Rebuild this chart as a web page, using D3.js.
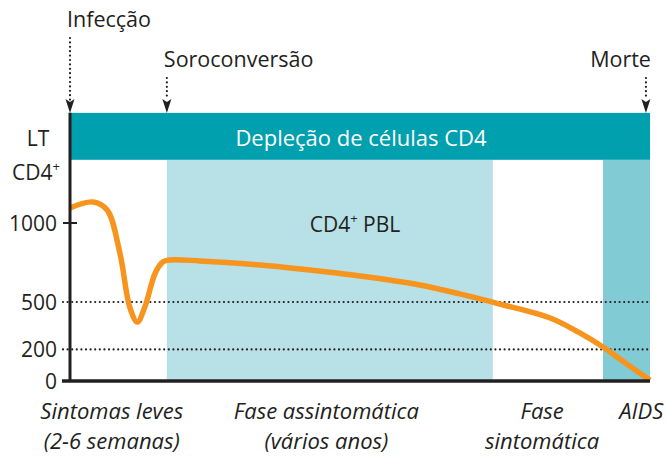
<!DOCTYPE html>
<html>
<head>
<meta charset="utf-8">
<script src="https://cdn.jsdelivr.net/npm/d3@7"></script>
<style>
  body { margin: 0; background: #fff; }
  text { font-family: "Open Sans", "Noto Sans", sans-serif; fill: #231f20; }
</style>
</head>
<body>
<div id="chart"></div>
<script>
let width = 668, height = 459;

// curve of CD4 cells over time (t = 0..100 arbitrary time, value = cells/uL)
let timePts  = [0, 4, 6.4, 8.6, 10.3, 11.6, 12.9, 14.7, 16, 17.2, 22.4, 32.8, 39.7, 50, 60.3, 67.2, 74.1, 82.8, 87.9, 91.9, 94.8, 100];
let cd4Vals  = [1095, 1133, 1082, 810, 468, 373, 468, 684, 753, 766, 760, 734, 709, 665, 608, 551, 487, 399, 304, 215, 139, 5];

let yTicks = [0, 200, 500, 1000];
let refLines = [500, 200];

// phases (shaded areas)
let shadeStart = [16.7, 91.9];
let shadeEnd   = [72.9, 100];
let shadeColor = ["#b7e0e7", "#80cbd4"];

// events on top
let eventNames = ["Infecção", "Soroconversão", "Morte"];
let eventTime  = [0, 16.7, 99.3];
let eventLevel = [0, 1, 1];

// phase labels at the bottom
let phaseLine1 = ["Sintomas leves", "Fase assintomática", "Fase", "AIDS"];
let phaseLine2 = ["(2-6 semanas)", "(vários anos)", "sintomática", ""];
let phaseX     = [7.2, 44.2, 81.4, 98.5];

let svg = d3.select("#chart").append("svg")
    .attr("width", width)
    .attr("height", height);

let x = d3.scaleLinear().domain([0, 100]).range([70, 650]);
let y = d3.scaleLinear().domain([0, 1000]).range([381, 223]);

// shaded phase boxes
svg.selectAll("rect.shade")
    .data(shadeStart)
    .enter()
    .append("rect")
    .attr("class", "shade")
    .attr("x", (d, i) => x(d))
    .attr("width", (d, i) => x(shadeEnd[i]) - x(d))
    .attr("y", y(1400))
    .attr("height", y(0) - y(1400))
    .style("fill", (d, i) => shadeColor[i]);

// depletion banner
svg.append("rect")
    .attr("x", x(0))
    .attr("width", x(100) - x(0))
    .attr("y", y(1697))
    .attr("height", y(1400) - y(1697))
    .style("fill", "#00a0af");

svg.append("text")
    .attr("x", 361)
    .attr("y", 146)
    .attr("text-anchor", "middle")
    .style("font-size", "22px")
    .style("fill", "#fff")
    .text("Depleção de células CD4");

// CD4+ PBL label
let pbl = svg.append("text")
    .attr("x", 355)
    .attr("y", 232)
    .attr("text-anchor", "middle")
    .style("font-size", "21px");
pbl.append("tspan").text("CD4");
pbl.append("tspan").attr("dy", -9).style("font-size", "13px").text("+");
pbl.append("tspan").attr("dy", 9).text(" PBL");

// dotted reference lines
svg.selectAll("line.ref")
    .data(refLines)
    .enter()
    .append("line")
    .attr("class", "ref")
    .attr("x1", 63)
    .attr("x2", x(100))
    .attr("y1", d => y(d))
    .attr("y2", d => y(d))
    .style("stroke", "#231f20")
    .style("stroke-width", 2.2)
    .style("stroke-linecap", "round")
    .style("stroke-dasharray", "0,4.6");

// the curve
let line = d3.line()
    .x((d, i) => x(timePts[i]))
    .y(d => y(d))
    .curve(d3.curveCatmullRom.alpha(0.5));

svg.append("path")
    .datum(cd4Vals)
    .attr("d", line)
    .style("fill", "none")
    .style("stroke", "#f7941d")
    .style("stroke-width", 5.5)
    .style("stroke-linecap", "butt");

// axes
svg.append("line")
    .attr("x1", x(0)).attr("x2", x(0))
    .attr("y1", y(1697)).attr("y2", y(0))
    .style("stroke", "#231f20").style("stroke-width", 3);
svg.append("line")
    .attr("x1", 62).attr("x2", x(100))
    .attr("y1", y(0)).attr("y2", y(0))
    .style("stroke", "#231f20").style("stroke-width", 3.5);
svg.append("line")
    .attr("x1", 63).attr("x2", 77)
    .attr("y1", y(1000)).attr("y2", y(1000))
    .style("stroke", "#231f20").style("stroke-width", 2);

svg.selectAll("text.tick")
    .data(yTicks)
    .enter()
    .append("text")
    .attr("class", "tick")
    .attr("x", 57)
    .attr("y", d => y(d) + 8)
    .attr("text-anchor", "end")
    .style("font-size", "21px")
    .text(d => d);

// y label
svg.append("text")
    .attr("x", 38).attr("y", 146)
    .attr("text-anchor", "middle")
    .style("font-size", "21px")
    .text("LT");
let cd = svg.append("text")
    .attr("x", 12).attr("y", 180)
    .style("font-size", "21px");
cd.append("tspan").text("CD4");
cd.append("tspan").attr("dy", -9).style("font-size", "13px").text("+");

// events with dotted arrows
eventNames.forEach(function(name, i) {
    let ex = x(eventTime[i]);
    let topY = eventLevel[i] === 0 ? 38 : 78;
    let anchor = i === 2 ? "end" : "start";
    svg.append("text")
        .attr("x", i === 2 ? ex + 5 : ex - 3)
        .attr("y", eventLevel[i] === 0 ? 27 : 67)
        .attr("text-anchor", anchor)
        .style("font-size", "21.5px")
        .text(name);
    svg.append("line")
        .attr("x1", ex).attr("x2", ex)
        .attr("y1", topY).attr("y2", 100)
        .style("stroke", "#231f20")
        .style("stroke-width", 2.2)
        .style("stroke-linecap", "round")
        .style("stroke-dasharray", "0,4.4");
    svg.append("path")
        .attr("d", "M" + (ex - 4.5) + ",99 L" + ex + ",102 L" + (ex + 4.5) + ",99 L" + ex + ",113 Z")
        .style("fill", "#231f20");
});

// phase labels
phaseLine1.forEach(function(t, i) {
    let lbl = svg.append("text")
        .attr("x", x(phaseX[i]))
        .attr("y", 419)
        .attr("text-anchor", "middle")
        .style("font-size", "22px")
        .style("font-style", "italic");
    lbl.append("tspan").attr("x", x(phaseX[i])).text(t);
    lbl.append("tspan").attr("x", x(phaseX[i])).attr("dy", 30).text(phaseLine2[i]);
});
</script>
</body>
</html>
